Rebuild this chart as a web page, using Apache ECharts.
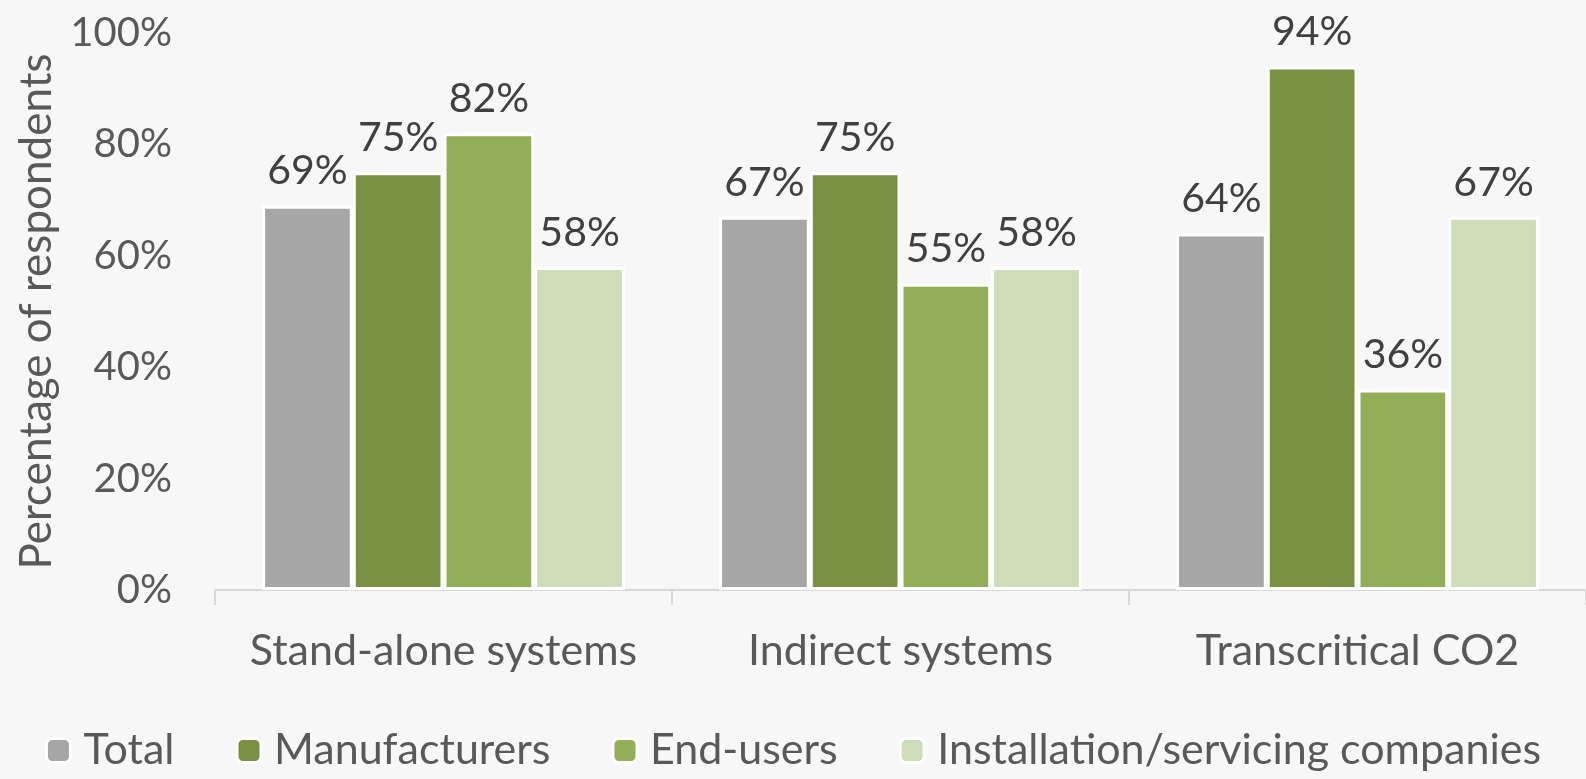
<!DOCTYPE html>
<html>
<head>
<meta charset="utf-8">
<script src="https://cdn.jsdelivr.net/npm/echarts@6/dist/echarts.min.js"></script>
<style>
  html, body { margin: 0; padding: 0; background: #f7f7f7; }
  #chart { width: 1586px; height: 779px; }
</style>
</head>
<body>
<div id="chart"></div>
<script>
// System types surveyed
const categories = ['Stand-alone systems', 'Indirect systems', 'Transcritical CO2'];

// Share of respondents (%) per group
const total = [69, 67, 64];
const manufacturers = [75, 75, 94];
const endUsers = [82, 55, 36];
const installers = [58, 58, 67];

const seriesNames = ['Total', 'Manufacturers', 'End-users', 'Installation/servicing companies'];
const seriesColors = ['#a6a6a6', '#7a9144', '#92af57', '#cfdcb8'];
const seriesData = [total, manufacturers, endUsers, installers];

const yTicks = [0, 20, 40, 60, 80, 100];

const FONT = 'Lato';
const TEXT = '#595959';
const chart = echarts.init(document.getElementById('chart'));

chart.setOption({
  backgroundColor: '#f7f7f7',
  textStyle: { fontFamily: FONT },
  animation: false,
  grid: { left: 215, right: 0, top: 33, bottom: 189, outerBoundsMode: 'none', containLabel: false },
  legend: {
    bottom: 2,
    left: 'center',
    itemWidth: 24,
    itemHeight: 24,
    itemGap: 61,
    itemStyle: { borderColor: '#ffffff', borderWidth: 3 },
    textStyle: { fontFamily: FONT, fontSize: 43, color: TEXT, padding: [0, 0, 0, 8] },
    data: seriesNames
  },
  xAxis: {
    type: 'category',
    data: categories,
    axisLine: { lineStyle: { color: '#d9d9d9', width: 2 } },
    axisTick: { show: true, length: 15, lineStyle: { color: '#d9d9d9', width: 2 } },
    axisLabel: { fontFamily: FONT, fontSize: 43, color: TEXT, margin: 40, interval: 0 }
  },
  yAxis: {
    type: 'value',
    min: yTicks[0],
    max: yTicks[yTicks.length - 1],
    interval: 20,
    name: 'Percentage of respondents',
    nameLocation: 'middle',
    nameRotate: 90,
    nameGap: 156,
    nameTextStyle: { fontFamily: FONT, fontSize: 44, color: TEXT },
    axisLine: { show: false },
    axisTick: { show: false },
    splitLine: { show: false },
    axisLabel: {
      fontFamily: FONT, fontSize: 40, color: TEXT, margin: 43,
      formatter: v => v + '%'
    }
  },
  series: seriesData.map((d, i) => ({
    name: seriesNames[i],
    type: 'bar',
    data: d,
    barGap: '0%',
    barCategoryGap: '20.6%',
    itemStyle: { color: seriesColors[i], borderColor: '#ffffff', borderWidth: 3 },
    label: {
      show: true,
      position: 'top',
      distance: 14,
      fontFamily: FONT,
      fontSize: 41,
      color: '#404040',
      formatter: p => p.value + '%'
    }
  }))
});
</script>
</body>
</html>
